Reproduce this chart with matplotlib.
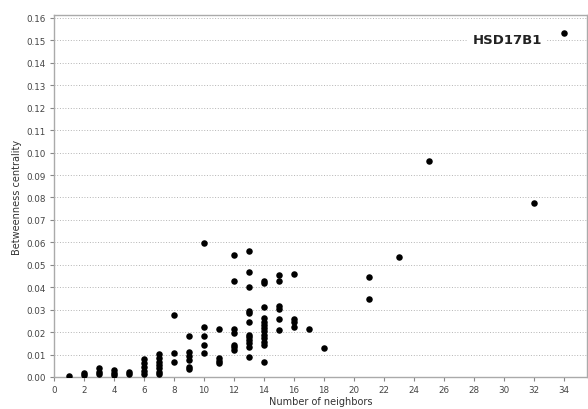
import matplotlib
matplotlib.use("Agg")
import matplotlib.pyplot as plt

# neighbors (x) and betweenness centrality (y), one list per column
neighbors = (
    [1] + [2] * 2 + [3] * 3 + [4] * 3 + [5] * 2 + [6] * 5 + [7] * 7 + [8] * 3
    + [9] * 6 + [10] * 5 + [11] * 4 + [12] * 7 + [13] * 12 + [14] * 13
    + [15] * 6 + [16] * 4 + [17] + [18] + [21] * 2 + [23] + [25] + [32] + [34]
)
centrality = [
    0.0005,
    0.0016, 0.0009,
    0.0038, 0.0024, 0.0012,
    0.0031, 0.0020, 0.0010,
    0.0022, 0.0012,
    0.0079, 0.0064, 0.0046, 0.0028, 0.0012,
    0.0103, 0.0083, 0.0068, 0.0053, 0.0038, 0.0024, 0.0013,
    0.0278, 0.0105, 0.0067,
    0.0183, 0.0113, 0.0094, 0.0076, 0.0046, 0.0034,
    0.0598, 0.0225, 0.0183, 0.0144, 0.0109,
    0.0213, 0.0083, 0.0071, 0.0061,
    0.0543, 0.0429, 0.0214, 0.0195, 0.0143, 0.0133, 0.0121,
    0.0563, 0.0470, 0.0400, 0.0295, 0.0285, 0.0243, 0.0186, 0.0179, 0.0165, 0.0152, 0.0134, 0.0091,
    0.0429, 0.0420, 0.0314, 0.0264, 0.0247, 0.0232, 0.0219, 0.0205, 0.0188, 0.0174, 0.0158, 0.0143, 0.0068,
    0.0453, 0.0426, 0.0317, 0.0304, 0.0258, 0.0210,
    0.0460, 0.0258, 0.0247, 0.0225,
    0.0213,
    0.0130,
    0.0444, 0.0347,
    0.0533,
    0.0961,
    0.0776,
    0.1534,
]

x_ticks = list(range(0, 36, 2))
y_ticks = [i / 100 for i in range(0, 17)]
annotation = "HSD17B1"

fig = plt.figure(figsize=(5.88, 4.10), dpi=100)
ax = fig.add_axes([54 / 588, 1 - 378 / 410, 533 / 588, 362 / 410])

ax.scatter(neighbors, centrality, s=22, color="black", zorder=3, linewidths=0)

ax.set_xlim(0, 35.53)
ax.set_ylim(0, 0.1613)
ax.set_xticks(x_ticks)
ax.set_yticks(y_ticks)
ax.set_yticklabels([f"{v:.2f}" for v in y_ticks])
ax.tick_params(axis="both", labelsize=6.3, colors="#888888", labelcolor="#444444",
               length=3, width=0.8, pad=3)

ax.yaxis.grid(True, linestyle=(0, (1, 1.8)), color="#b4b4b4", linewidth=0.7)
ax.xaxis.grid(False)
ax.set_axisbelow(True)

for side in ["left", "right", "top", "bottom"]:
    ax.spines[side].set_color("#aaaaaa")
    ax.spines[side].set_linewidth(1.0)

ax.set_xlabel("Number of neighbors", fontsize=7, color="#333333", labelpad=1)
ax.set_ylabel("Betweenness centrality", fontsize=7, color="#333333", labelpad=3)

ax.text(30.2, 0.1505, annotation, fontsize=9.5, fontweight="bold", color="#222222",
        ha="center", va="center", zorder=4,
        bbox=dict(facecolor="white", edgecolor="none", pad=3))

fig.savefig("out.png", dpi=100)
